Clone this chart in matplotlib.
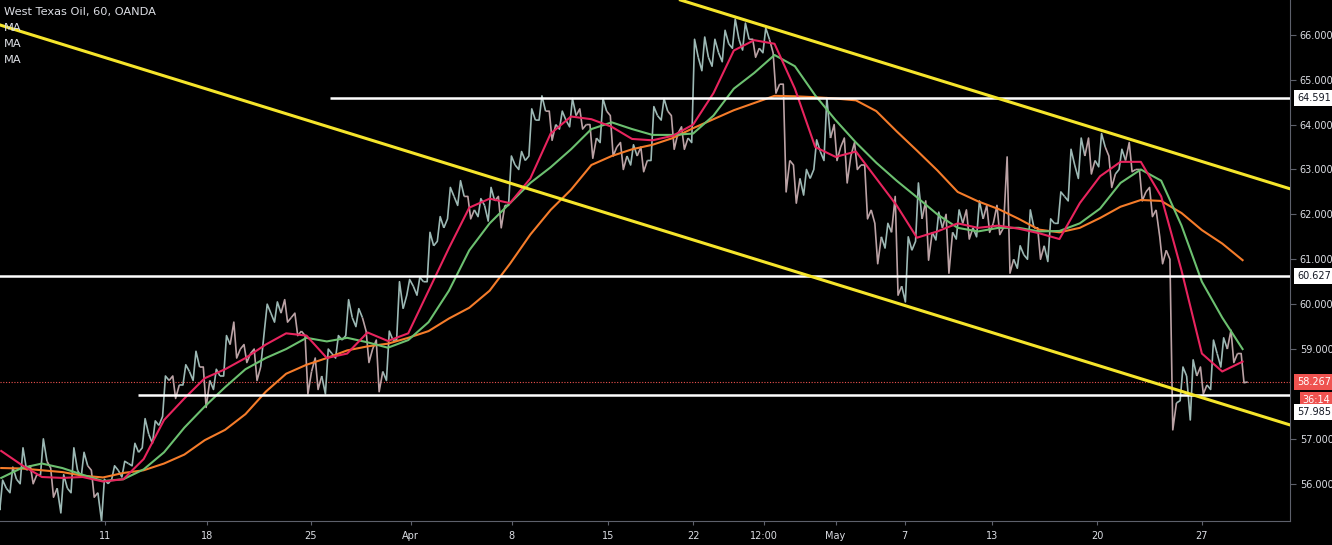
import numpy as np
import matplotlib.pyplot as plt
from matplotlib.collections import LineCollection
from matplotlib.transforms import blended_transform_factory

plt.rcParams['font.family'] = ['DejaVu Sans']

# half-day bars: bar k sits at trading day k/2 (day 0 = Mar 4, Good Friday skipped)
bar_hi = [56.08, 56.37, 56.8, 56.4, 57.0, 56.35, 56.2, 56.8, 56.7, 56.3,
          56.1, 56.4, 56.5, 56.9, 57.45, 57.4, 58.4, 58.4, 58.65, 58.95,
          58.6, 58.55, 59.3, 59.6, 59.1, 59.0, 60.0, 60.05, 60.1, 59.8,
          59.3, 58.8, 59.0, 59.3, 60.1, 59.9, 59.4, 59.2, 59.4, 60.5,
          60.55, 60.6, 61.6, 61.95, 62.6, 62.75, 62.4, 62.35, 62.6, 62.4,
          63.3, 63.4, 64.35, 64.64, 64.3, 64.3, 64.58, 64.35, 64.0, 64.58,
          64.2, 63.6, 63.55, 63.5, 64.4, 64.58, 64.2, 63.95, 65.9, 65.95,
          65.9, 66.1, 66.35, 66.26, 65.9, 66.15, 65.6, 64.9, 63.1, 63.0,
          63.66, 64.6, 64.0, 63.7, 63.6, 63.1, 61.8, 61.8, 62.4, 61.5,
          62.7, 62.3, 62.05, 62.0, 62.1, 62.1, 62.3, 62.2, 62.2, 63.28,
          61.3, 62.1, 61.7, 61.9, 62.5, 63.45, 63.7, 63.7, 63.8, 63.3,
          63.45, 63.6, 63.0, 62.6, 61.5, 61.0, 58.6, 58.76, 58.6, 59.2,
          59.25, 59.42, 58.9]
bar_lo = [55.42, 55.8, 56.0, 56.0, 56.2, 55.7, 55.35, 55.8, 56.15, 55.7,
          55.17, 56.1, 56.15, 56.4, 56.8, 56.9, 57.5, 57.9, 58.2, 58.3,
          57.7, 58.1, 58.4, 58.8, 58.7, 58.3, 59.4, 59.6, 59.6, 59.3,
          58.0, 58.1, 58.0, 58.8, 59.3, 59.5, 58.7, 58.05, 58.3, 59.2,
          60.2, 60.2, 60.5, 61.4, 61.9, 62.2, 61.9, 61.95, 61.85, 61.7,
          62.2, 63.0, 63.3, 64.1, 63.65, 63.9, 63.95, 63.9, 63.25, 63.6,
          63.3, 63.0, 63.1, 62.95, 63.2, 64.1, 63.45, 63.45, 63.6, 65.2,
          65.3, 65.4, 65.7, 65.66, 65.5, 65.6, 64.7, 62.5, 62.25, 62.43,
          63.0, 63.2, 63.2, 62.7, 63.0, 61.9, 60.9, 61.25, 60.2, 60.05,
          61.4, 60.98, 61.43, 60.69, 61.45, 61.45, 61.5, 61.6, 61.55, 60.69,
          60.8, 61.0, 61.0, 60.95, 61.8, 62.3, 62.8, 62.9, 63.06, 62.6,
          63.0, 62.95, 62.3, 61.95, 60.9, 57.2, 57.85, 57.42, 58.0, 58.1,
          58.6, 58.7, 58.25]
bar_close = [55.9, 56.1, 56.3, 56.2, 56.5, 55.9, 55.9, 56.3, 56.4, 55.8,
             56.0, 56.3, 56.45, 56.7, 57.1, 57.3, 58.3, 58.2, 58.5, 58.6,
             58.3, 58.4, 59.1, 59.0, 58.9, 58.6, 59.8, 59.8, 59.7, 59.4,
             58.5, 58.4, 58.9, 59.2, 59.7, 59.7, 59.0, 58.5, 59.2, 59.9,
             60.4, 60.5, 61.3, 61.7, 62.4, 62.4, 62.1, 62.2, 62.3, 62.2,
             63.1, 63.2, 64.1, 64.3, 64.0, 64.1, 64.2, 64.0, 63.7, 64.3,
             63.5, 63.3, 63.3, 63.2, 64.2, 64.3, 63.8, 63.7, 65.5, 65.5,
             65.6, 65.8, 65.9, 65.9, 65.7, 65.9, 64.9, 63.2, 62.8, 62.8,
             63.4, 63.7, 63.5, 63.3, 63.1, 62.1, 61.5, 61.6, 60.4, 61.2,
             61.9, 61.6, 61.7, 61.6, 61.8, 61.7, 61.9, 61.8, 61.7, 61.0,
             61.1, 61.7, 61.3, 61.8, 62.4, 63.1, 63.3, 63.2, 63.5, 62.9,
             63.2, 63.0, 62.5, 62.1, 61.2, 57.8, 58.4, 58.4, 58.2, 58.9,
             59.0, 58.9, 58.267]

# moving averages, one reading per trading day
ma_red = [56.73, 56.42, 56.15, 56.13, 56.15, 56.05, 56.1, 56.55, 57.42, 57.9,
          58.35, 58.55, 58.8, 59.1, 59.35, 59.3, 58.8, 58.9, 59.37, 59.18,
          59.35, 60.3, 61.25, 62.15, 62.35, 62.25, 62.8, 63.8, 64.18, 64.12,
          63.95, 63.68, 63.65, 63.75, 64.0, 64.7, 65.65, 65.88, 65.8, 64.8,
          63.5, 63.28, 63.4, 62.8, 62.2, 61.48, 61.62, 61.8, 61.7, 61.75,
          61.68, 61.58, 61.45, 62.25, 62.85, 63.17, 63.17, 62.4, 60.75, 58.9,
          58.5, 58.72]
ma_green = [56.13, 56.35, 56.45, 56.35, 56.2, 56.06, 56.1, 56.32, 56.7, 57.25,
            57.72, 58.15, 58.55, 58.8, 59.0, 59.25, 59.17, 59.25, 59.15, 59.03,
            59.2, 59.6, 60.3, 61.2, 61.8, 62.25, 62.7, 63.05, 63.45, 63.9,
            64.05, 63.9, 63.77, 63.77, 63.8, 64.2, 64.8, 65.15, 65.55, 65.3,
            64.65, 64.1, 63.6, 63.15, 62.75, 62.38, 62.0, 61.7, 61.62, 61.7,
            61.7, 61.62, 61.63, 61.8, 62.13, 62.7, 63.0, 62.75, 61.75, 60.5,
            59.7, 59.0]
ma_orange = [56.35, 56.34, 56.3, 56.26, 56.18, 56.14, 56.24, 56.3, 56.45, 56.65,
             56.97, 57.2, 57.55, 58.05, 58.45, 58.65, 58.8, 58.97, 59.06, 59.12,
             59.25, 59.4, 59.68, 59.92, 60.3, 60.9, 61.55, 62.1, 62.55, 63.1,
             63.3, 63.45, 63.55, 63.7, 63.92, 64.12, 64.32, 64.48, 64.64, 64.63,
             64.61, 64.58, 64.54, 64.3, 63.85, 63.42, 62.98, 62.5, 62.29, 62.12,
             61.9, 61.66, 61.6, 61.7, 61.92, 62.17, 62.32, 62.3, 62.03, 61.65,
             61.35, 60.98]

date_pos = [5.1, 10.1, 15.2, 20.12, 25.08, 29.8, 34.0, 37.5, 41.0, 44.4, 48.7, 53.85, 59.0]
date_labels = ['11', '18', '25', 'Apr', '8', '15', '22', '12:00', 'May', '7', '13', '20', '27']

price_ticks = [56, 57, 59, 60, 61, 62, 63, 64, 65, 66]

levels = [64.591, 60.627, 57.985]
level_from = [16.15, -1.0, 6.72]

upper_trend = [(34.34, 66.64), (63.33, 62.57)]
lower_trend = [(0.0, 66.21), (63.33, 57.31)]

last_price = 58.267
countdown = '36:14'

TXT = '#dcdee4'
AXC = '#5d606b'

fig = plt.figure(figsize=(13.32, 5.45), dpi=100, facecolor='black')
ax = fig.add_axes([0, 24 / 545, 1290 / 1332, 521 / 545], facecolor='black')

# price bars as a continuous squiggle: open -> extreme -> extreme -> close
segs, cols = [], []
prev = bar_close[0]
for k, (h, l, c) in enumerate(zip(bar_hi, bar_lo, bar_close)):
    x = k * 0.5
    up = c >= prev
    a, b = (l, h) if up else (h, l)
    xs = [x - 0.25, x - 0.07, x + 0.07, x + 0.25]
    segs.append(list(zip(xs, [prev, a, b, c])))
    cols.append('#9cb8b4' if up else '#bba2a5')
    prev = c
ax.add_collection(LineCollection(segs, colors=cols, linewidths=1.2, zorder=2))

days = np.arange(len(ma_red))
ax.plot(days, ma_orange, color='#f57c2a', lw=1.5, zorder=3)
ax.plot(days, ma_green, color='#6cc070', lw=1.5, zorder=3)
ax.plot(days, ma_red, color='#e8245e', lw=1.5, zorder=4)

for p, x0 in zip(levels, level_from):
    ax.hlines(p, x0, 70, color='white', lw=1.8, zorder=5)
ax.axhline(last_price, color='#ef5350', lw=0.8, ls=(0, (1, 1.5)), zorder=1)

ax.axline(upper_trend[0], upper_trend[1], color='#f5e52b', lw=2.2, zorder=6)
ax.axline(lower_trend[0], lower_trend[1], color='#f5e52b', lw=2.2, zorder=6)

ax.set_xlim(-0.06, 63.33)
ax.set_ylim(55.17, 66.775)

for s in ['top', 'left']:
    ax.spines[s].set_visible(False)
for s in ['right', 'bottom']:
    ax.spines[s].set_color(AXC)

ax.yaxis.tick_right()
ax.set_yticks(price_ticks)
ax.set_yticklabels(['%.3f' % v for v in price_ticks])
ax.set_xticks(date_pos)
ax.set_xticklabels(date_labels)
ax.tick_params(axis='y', colors=AXC, labelcolor=TXT, length=4, labelsize=7, pad=3)
ax.tick_params(axis='x', colors=AXC, labelcolor=TXT, length=3, labelsize=7, pad=4)

# price boxes on the right scale
blend = blended_transform_factory(ax.transAxes, ax.transData)
box_labels = [('64.591', 64.591, 0, 'white', '#131722'),
              ('60.627', 60.627, 0, 'white', '#131722'),
              ('%.3f' % last_price, last_price, 0, '#ef5350', 'white'),
              (countdown, last_price, -13, '#ef5350', 'white'),
              ('57.985', 57.985, -12.3, 'white', '#131722')]
for txt, p, dy, fc, tc in box_labels:
    ax.annotate(txt, xy=(1, p), xycoords=blend, xytext=(5 if txt != countdown else 9, dy),
                textcoords='offset points', ha='left', va='center', fontsize=7, color=tc,
                bbox=dict(boxstyle='square,pad=0.3', fc=fc, ec='none'),
                annotation_clip=False, zorder=10)

fig.text(4 / 1332, 1 - 12 / 545, 'West Texas Oil, 60, OANDA', color=TXT, fontsize=8.2, va='center')
for yy in [28, 44, 60]:
    fig.text(4 / 1332, 1 - yy / 545, 'MA', color=TXT, fontsize=8.2, va='center')

fig.savefig('out.png', dpi=100, facecolor='black')
